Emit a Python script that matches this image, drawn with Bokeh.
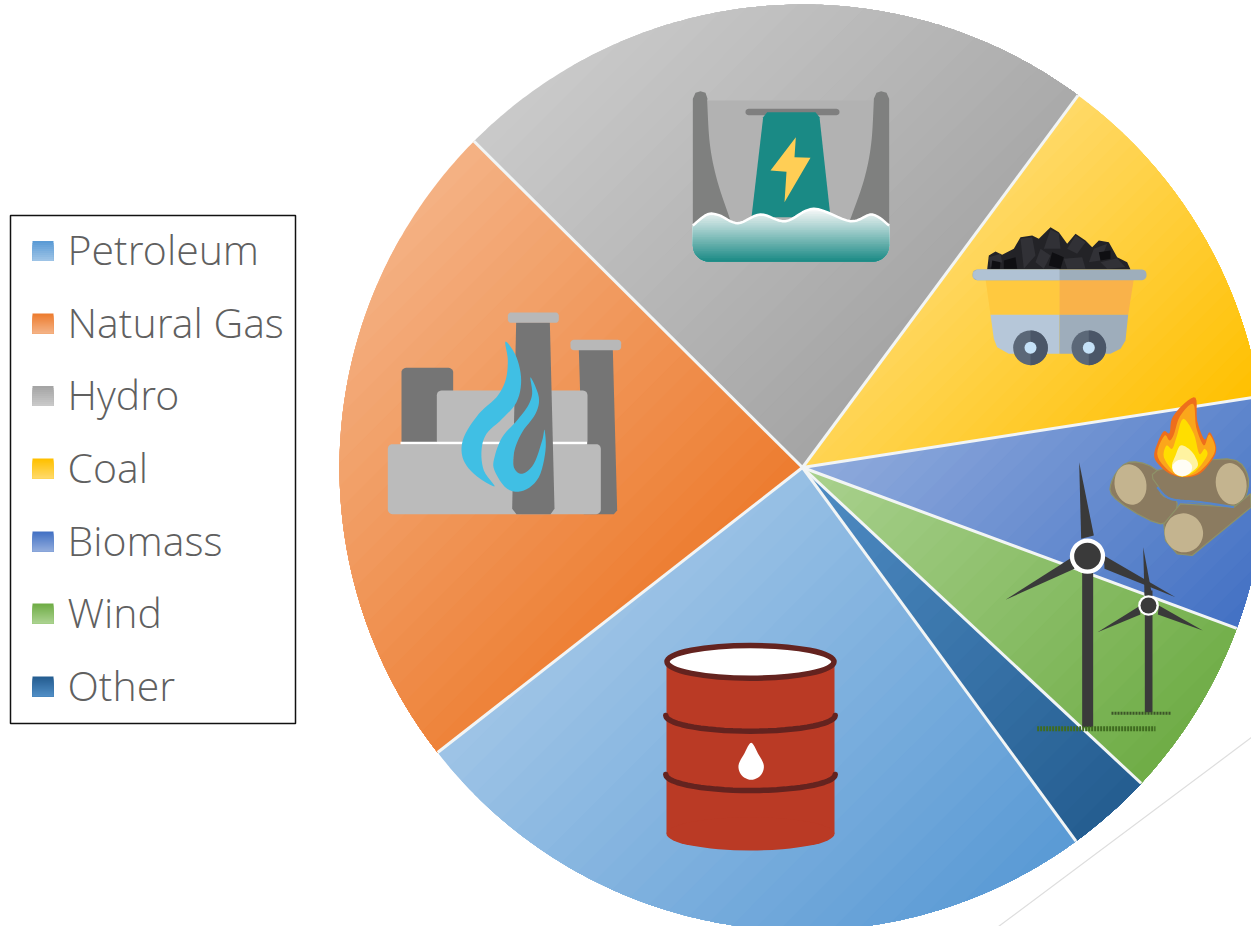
from math import sin, cos, radians
import numpy as np
from bokeh.plotting import figure
from bokeh.models import Range1d
from bokeh.core.properties import value
from bokeh.embed import file_html
from bokeh.resources import INLINE

categories = ["Petroleum", "Natural Gas", "Hydro", "Coal", "Biomass", "Wind", "Other"]
shares = [24.5, 23.0, 22.7, 12.4, 8.1, 6.3, 3.0]
light = ["#9DC3E6", "#F4B183", "#C9C9C9", "#FFD966", "#8FAADC", "#A9D18E", "#4F8CC4"]
dark = ["#5B9BD5", "#ED7D31", "#A5A5A5", "#FFC000", "#4472C4", "#70AD47", "#255E91"]

W, H = 1251, 926
p = figure(width=W, height=H, x_range=Range1d(0, W), y_range=Range1d(H, 0),
           output_backend="svg", toolbar_location=None, min_border=0)
p.axis.visible = False
p.grid.visible = False
p.outline_line_color = None
p.background_fill_color = "#FFFFFF"
p.border_fill_color = "#FFFFFF"


def rgb(c):
    return np.array([int(c[i:i + 2], 16) for i in (1, 3, 5)], float)


def mix(a, b, t):
    v = rgb(a) * (1 - t) + rgb(b) * t
    return "#%02X%02X%02X" % tuple(int(round(x)) for x in v)


def clip(pts, d, t):
    out = []
    n = len(pts)
    for i in range(n):
        a, b = pts[i], pts[(i + 1) % n]
        pa = a[0] * d[0] + a[1] * d[1] - t
        pb = b[0] * d[0] + b[1] * d[1] - t
        if pa >= 0:
            out.append(a)
        if (pa >= 0) != (pb >= 0):
            s = pa / (pa - pb)
            out.append((a[0] + (b[0] - a[0]) * s, a[1] + (b[1] - a[1]) * s))
    return out


def gradient(pts, c0, c1, d, steps=28):
    proj = [x * d[0] + y * d[1] for x, y in pts]
    lo, hi = min(proj), max(proj)
    xs, ys, cs = [], [], []
    for k in range(steps):
        t = lo + (hi - lo) * k / steps
        q = clip(pts, d, t)
        if len(q) > 2:
            xs.append([a for a, _ in q])
            ys.append([b for _, b in q])
            cs.append(mix(c0, c1, k / (steps - 1)))
    p.patches(xs, ys, fill_color=cs, line_color=None)


def poly(pts, color):
    p.patch([a for a, _ in pts], [b for _, b in pts], fill_color=color, line_color=None)


def Z(x0, y0, pts, s=3.0):
    return [(x0 + a / s, y0 + b / s) for a, b in pts]


def smooth(pts, n=8, closed=True):
    P = list(pts)
    m = len(P)
    out = []
    rng = range(m) if closed else range(m - 1)
    for i in rng:
        if closed:
            p0, p1, p2, p3 = P[i - 1], P[i], P[(i + 1) % m], P[(i + 2) % m]
        else:
            p0, p1, p2, p3 = P[max(i - 1, 0)], P[i], P[i + 1], P[min(i + 2, m - 1)]
        for k in range(n):
            t = k / n
            f = lambda a, b, c, e: 0.5 * (2 * b + (c - a) * t + (2 * a - 5 * b + 4 * c - e) * t * t + (3 * b - a - 3 * c + e) * t ** 3)
            out.append((f(p0[0], p1[0], p2[0], p3[0]), f(p0[1], p1[1], p2[1], p3[1])))
    if not closed:
        out.append(P[-1])
    return out


def rrect(x0, y0, x1, y1, r):
    out = []
    for cx, cy, a0 in ((x1 - r, y0 + r, -90), (x1 - r, y1 - r, 0), (x0 + r, y1 - r, 90), (x0 + r, y0 + r, 180)):
        for k in range(7):
            a = radians(a0 + 15 * k)
            out.append((cx + r * cos(a), cy + r * sin(a)))
    return out


def corner(cx, cy, rx, ry, a0):
    return [(cx + rx * cos(radians(a0 + 15 * k)), cy + ry * sin(radians(a0 + 15 * k))) for k in range(7)]


# ---------------- pie ----------------
CX, CY, R = 802.0, 467.0, 463.0
START = 143.8
total = sum(shares)
angle = START
bounds = []
diag = (0.7071, 0.7071)
for i, s in enumerate(shares):
    a1 = angle + s / total * 360
    steps = max(int(a1 - angle) * 2, 4)
    arc = [(CX + R * sin(radians(angle + (a1 - angle) * k / steps)),
            CY - R * cos(radians(angle + (a1 - angle) * k / steps))) for k in range(steps + 1)]
    gradient([(CX, CY)] + arc, light[i], dark[i], diag)
    bounds.append(arc[0])
    angle = a1
for bx, by in bounds:
    p.line([CX, bx], [CY, by], line_color="#F2F5F5", line_width=3)

# thin rule bottom right
p.line([998, 1251], [926, 737], line_color="#DEDEDE", line_width=1.2)

# ---------------- legend ----------------
p.patch([10, 295, 295, 10], [215, 215, 723, 723], fill_color="#FFFFFF", line_color="#111111", line_width=1.5)
rows = [250.5, 323, 395.5, 468, 541, 613, 686]
for i, y in enumerate(rows):
    gradient([(32, y - 10), (53, y - 10), (53, y + 10), (32, y + 10)], dark[i], light[i], (0, 1), steps=10)
p.text(x=[67] * 7, y=[r - 2 for r in rows], text=categories, text_font=value("Open Sans Light"),
       text_font_size="41px", text_color="#606060", text_baseline="middle", text_align="left")

# ---------------- hydro icon ----------------
D = lambda pts: Z(650, 70, pts)
poly(D([(170, 90), (670, 90), (670, 450), (170, 450)]), "#B2B2B2")
left = smooth([(170, 90), (178, 220), (200, 330), (240, 450)], closed=False)
poly(D([(127, 85), (135, 67), (150, 62), (165, 67), (171, 85)] + left + [(127, 470)]), "#7F807F")
right = smooth([(670, 90), (662, 220), (640, 330), (598, 450)], closed=False)
poly(D([(716, 85), (708, 67), (692, 62), (678, 67), (670, 85)] + right + [(716, 470)]), "#7F807F")
poly(D(rrect(285, 115, 567, 134, 9)), "#7F7F7F")
poly(D([(338, 140), (350, 125), (495, 125), (507, 140), (540, 440), (303, 440)]), "#1A8A85")
poly(D([(436, 200), (360, 300), (408, 304), (402, 395), (480, 262), (432, 260)]), "#FFCE55")
wave = smooth([(127, 465), (170, 432), (205, 434), (262, 458), (330, 432), (405, 452),
               (490, 415), (600, 452), (665, 432), (716, 465)], closed=False)
water = wave + corner(668, 525, 48, 48, 0) + corner(175, 525, 48, 48, 90)
gradient(D(water), "#F6F8F8", "#1D8B86", (0, 1), steps=30)
wv = D(wave)
p.line([a for a, _ in wv], [b for _, b in wv], line_color="#FFFFFF", line_width=2.5)

# ---------------- factory icon ----------------
F = lambda pts: Z(370, 300, pts)
poly(F(rrect(93, 202, 248, 435, 14)), "#757575")
poly(F([(625, 148), (727, 148), (740, 630), (730, 641), (640, 641)]), "#757575")
poly(F(rrect(600, 118, 752, 149, 10)), "#B8B8B8")
poly(F(rrect(199, 270, 651, 435, 14)), "#BBBBBB")
poly(F([(90, 424), (650, 424), (650, 433), (90, 433)]), "#FFFFFF")
poly(F(rrect(52, 431, 691, 641, 14)), "#BBBBBB")
poly(F([(437, 65), (538, 65), (552, 625), (540, 641), (438, 641), (425, 625)]), "#757575")
poly(F(rrect(412, 36, 565, 67, 10)), "#B8B8B8")
poly(F(smooth([(405, 123), (438, 170), (452, 240), (438, 305), (395, 355), (348, 400), (333, 450), (340, 510), (372, 558),
               (310, 520), (276, 470), (280, 410), (325, 340), (378, 290), (405, 240), (412, 180)], n=6)), "#40BFE4")
poly(F(smooth([(480, 230), (505, 290), (495, 340), (455, 395), (432, 450), (430, 500), (455, 520), (490, 490),
               (515, 420), (522, 388), (525, 450), (505, 530), (460, 570), (410, 565), (372, 510), (372, 470),
               (395, 410), (435, 365), (470, 320), (485, 280)], n=6)), "#40BFE4")

# ---------------- barrel icon ----------------
B = lambda pts: Z(640, 630, pts)
poly(B([(78, 95), (582, 95), (582, 610), (78, 610)]), "#BA3A25")
p.ellipse(x=[640 + 330 / 3], y=[630 + 610 / 3], width=[504 / 3], height=[100 / 3], fill_color="#BA3A25", line_color=None)
p.ellipse(x=[640 + 330 / 3], y=[630 + 94 / 3], width=[501 / 3], height=[98 / 3], fill_color="#FFFFFF",
          line_color="#64231F", line_width=5.5)
for top, low in ((255, 302), (432, 480)):
    band = [(330 + 254 * sin(radians(a)), top + (low - top) * cos(radians(a))) for a in range(-90, 91, 6)]
    bb = B(band)
    p.line([a for a, _ in bb], [b for _, b in bb], line_color="#64231F", line_width=5.5, line_cap="round")
poly(B(smooth([(332, 337), (352, 368), (370, 405), (360, 435), (332, 448), (304, 435), (294, 405), (312, 368)], n=6)), "#FFFFFF")

# ---------------- coal cart icon ----------------
C = lambda pts: Z(960, 215, pts)
poly(C([(75, 190), (297, 190), (297, 298), (90, 298)]), "#FFC93F")
poly(C([(297, 190), (520, 190), (503, 298), (297, 298)]), "#F9B24A")
poly(C([(90, 298), (297, 298), (297, 415), (145, 415), (110, 395), (100, 370)]), "#B6C7D9")
poly(C([(297, 298), (503, 298), (495, 375), (480, 400), (450, 415), (297, 415)]), "#9EADBB")
poly(C([(80, 162), (85, 120), (105, 108), (125, 118), (160, 100), (180, 65), (215, 60), (235, 70), (270, 35),
        (295, 50), (320, 85), (345, 55), (375, 75), (395, 95), (415, 75), (445, 80), (470, 125), (500, 140), (510, 162)]),
     "#232327")
for f in ([(180, 70), (215, 65), (225, 120), (190, 160)], [(270, 42), (295, 55), (300, 100), (250, 100)],
          [(345, 60), (375, 80), (350, 115), (320, 100)], [(400, 100), (440, 85), (420, 135), (385, 140)],
          [(240, 100), (270, 120), (250, 160), (225, 140)], [(310, 130), (365, 125), (375, 160), (320, 160)],
          [(420, 140), (470, 128), (495, 155), (440, 160)], [(85, 125), (120, 115), (125, 140), (90, 155)]):
    poly(C(f), "#313136")
for f in ([(130, 135), (165, 125), (170, 160), (130, 160)], [(95, 135), (120, 140), (118, 160), (92, 160)],
          [(275, 110), (310, 125), (300, 160), (265, 150)], [(415, 110), (450, 105), (450, 130), (420, 135)]):
    poly(C(f), "#0F0F12")
poly(C(rrect(36, 162, 558, 194, 14)), "#9EAEBB")
poly(C([(297, 162), (50, 162), (38, 170), (38, 186), (50, 194), (297, 194)]), "#B0C2D4")
for cx in (210, 385):
    x = 960 + cx / 3
    y = 215 + 397 / 3
    p.circle(x=[x], y=[y], radius=52 / 3, fill_color="#5B6878", line_color=None)
    half = [(cx + 52 * cos(radians(a)), 397 + 52 * sin(radians(a))) for a in range(-90, 91, 10)]
    poly(C(half), "#4A5668")
    p.circle(x=[x], y=[y], radius=18 / 3, fill_color="#C5E2F8", line_color=None)

# ---------------- biomass icon ----------------
G = lambda pts: Z(1000, 390, pts)
LOG = "#8B7B60"
EDGE = "#8E9268"
END = "#C4B48F"


def logpoly(pts):
    q = G(pts)
    p.patch([a for a, _ in q], [b for _, b in q], fill_color=LOG, line_color=EDGE, line_width=1.2)


def logend(cx, cy, w, h, ang):
    p.ellipse(x=[1000 + cx / 3], y=[390 + cy / 3], width=[w / 3], height=[h / 3], angle=[ang], fill_color=END, line_color=None)


logpoly(smooth([(385, 215), (470, 240), (530, 340), (480, 400), (345, 325), (335, 270)], n=4))
logend(390, 282, 95, 122, 0.2)
logpoly(smooth([(470, 240), (680, 205), (740, 250), (735, 320), (700, 345), (510, 325), (475, 290)], n=4))
logend(692, 280, 92, 125, 0.15)
logpoly([(540, 340), (700, 350), (750, 310), (752, 350), (575, 495), (530, 490), (495, 450), (490, 400)])
logend(550, 427, 115, 118, 0.5)
gap = G(smooth([(470, 290), (510, 325), (600, 335), (700, 350)], closed=False))
p.line([a for a, _ in gap], [b for _, b in gap], line_color="#5585CC", line_width=2.2)
poly(G(smooth([(585, 22), (545, 45), (514, 85), (507, 128), (490, 122), (472, 155), (461, 198), (482, 230), (515, 253),
               (560, 260), (600, 248), (637, 205), (647, 170), (628, 125), (612, 147), (590, 90)], n=5)), "#EE6E1C")
poly(G(smooth([(578, 40), (538, 78), (520, 132), (507, 150), (492, 135), (470, 190), (498, 235), (540, 258), (590, 248),
               (632, 205), (644, 170), (626, 132), (610, 165), (587, 110)], n=5)), "#FBA61B")
poly(G(smooth([(548, 85), (528, 140), (515, 175), (498, 165), (490, 200), (520, 245), (545, 258), (585, 242), (620, 195),
               (612, 175), (596, 190), (580, 130)], n=5)), "#FFDE00")
poly(G(smooth([(540, 165), (525, 195), (515, 230), (545, 258), (590, 230), (585, 200), (565, 175)], n=5)), "#FFF3A0")
p.ellipse(x=[1000 + 545 / 3], y=[390 + 232 / 3], width=[60 / 3], height=[50 / 3], fill_color="#FFFDF5", line_color=None)

# ---------------- wind icon ----------------
T = lambda pts: Z(1000, 390, pts)
DK = "#3A3A3A"
poly(T([(245, 480), (278, 480), (278, 1010), (245, 1010)]), DK)
poly(T([(236, 215), (280, 435), (242, 445)]), DK)
poly(T([(15, 628), (215, 500), (222, 535)]), DK)
poly(T([(310, 495), (525, 620), (312, 535)]), DK)
p.circle(x=[1000 + 261 / 3], y=[390 + 497 / 3], radius=[53 / 3], fill_color="#FFFFFF", line_color=None)
p.circle(x=[1000 + 261 / 3], y=[390 + 497 / 3], radius=[40 / 3], fill_color=DK, line_color=None)
poly(T([(433, 600), (456, 600), (456, 965), (433, 965)]), DK)
poly(T([(428, 470), (455, 615), (432, 615)]), DK)
poly(T([(291, 725), (415, 648), (420, 672)]), DK)
poly(T([(475, 645), (607, 720), (472, 672)]), DK)
p.circle(x=[1000 + 444 / 3], y=[390 + 645 / 3], radius=[31 / 3], fill_color="#FFFFFF", line_color=None)
p.circle(x=[1000 + 444 / 3], y=[390 + 645 / 3], radius=[24 / 3], fill_color=DK, line_color=None)
p.line([1000 + 110 / 3, 1000 + 465 / 3], [390 + 1015 / 3] * 2, line_color="#3F6B20", line_width=5, line_dash="2 1")
p.line([1000 + 333 / 3, 1000 + 513 / 3], [390 + 968 / 3] * 2, line_color="#3C5528", line_width=3, line_dash="2 1")

open("out.html", "w").write(file_html(p, INLINE))
